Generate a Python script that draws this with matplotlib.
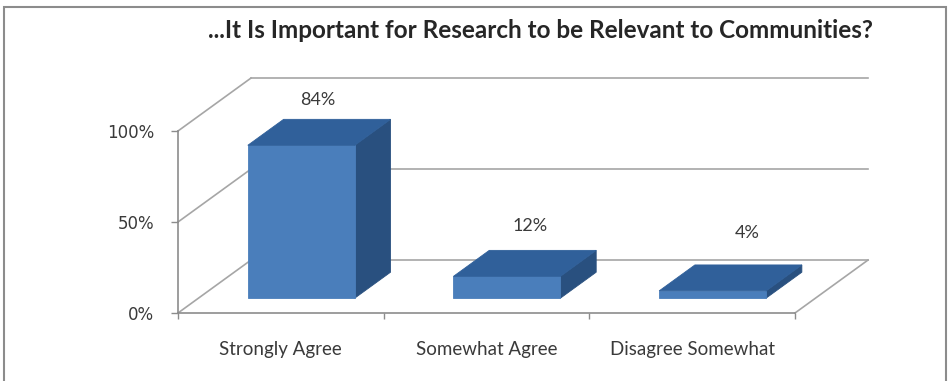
import matplotlib
matplotlib.use("Agg")
import matplotlib.pyplot as plt
from matplotlib.patches import Polygon, Rectangle

categories = ["Strongly Agree", "Somewhat Agree", "Disagree Somewhat"]
values = [84, 12, 4]
value_labels = ["84%", "12%", "4%"]
y_ticks = [0, 50, 100]
y_tick_labels = ["0%", "50%", "100%"]
title = "...It Is Important for Research to be Relevant to Communities?"

# oblique depth offset, in data units (categories, percent)
DX = 0.355
DY = 29.1
BAR_FRONT = 0.28
BAR_BACK = 0.77
BAR_WIDTH = 0.52

FRONT_COLOR = "#4a7ebb"
TOP_COLOR = "#30609a"
SIDE_COLOR = "#29507f"
WALL_COLOR = "#a6a6a6"
TEXT_COLOR = "#3a3a3a"


def proj(x, y, d):
    return (x + d * DX, y + d * DY)


fig = plt.figure(figsize=(9.52, 3.81), dpi=100)
ax = fig.add_axes([178 / 952, 68 / 381, 617 / 952, 182 / 381])
ax.set_xlim(0, len(categories))
ax.set_ylim(0, 100)
ax.set_facecolor("none")

n = len(categories)

# walls: left wall diagonals and back wall lines for each gridline
for v in y_ticks:
    ax.plot([0, DX], [v, v + DY], color=WALL_COLOR, lw=1.2, zorder=1, clip_on=False)
    ax.plot([DX, n + DX], [v + DY, v + DY], color=WALL_COLOR, lw=1.2, zorder=1, clip_on=False)
# floor right edge
ax.plot([n, n + DX], [0, DY], color=WALL_COLOR, lw=1.2, zorder=1, clip_on=False)

label_depth = [0.5, 0.6, 0.75]
for i, v in enumerate(values):
    c = i + 0.5
    l, r = c - BAR_WIDTH / 2, c + BAR_WIDTH / 2
    front = [proj(l, 0, BAR_FRONT), proj(r, 0, BAR_FRONT),
             proj(r, v, BAR_FRONT), proj(l, v, BAR_FRONT)]
    top = [proj(l, v, BAR_FRONT), proj(r, v, BAR_FRONT),
           proj(r, v, BAR_BACK), proj(l, v, BAR_BACK)]
    side = [proj(r, 0, BAR_FRONT), proj(r, 0, BAR_BACK),
            proj(r, v, BAR_BACK), proj(r, v, BAR_FRONT)]
    for pts, col in [(side, SIDE_COLOR), (front, FRONT_COLOR), (top, TOP_COLOR)]:
        ax.add_patch(Polygon(pts, closed=True, facecolor=col, edgecolor=col,
                             lw=0.6, zorder=3, clip_on=False))
    ax.annotate(value_labels[i], xy=proj(c, v, label_depth[i]), xytext=(0, 24),
                textcoords="offset points", ha="center", va="center",
                fontsize=13, family="Lato", color=TEXT_COLOR)

for side_name in ["top", "right"]:
    ax.spines[side_name].set_visible(False)
for side_name in ["left", "bottom"]:
    ax.spines[side_name].set_color("#8c8c8c")
    ax.spines[side_name].set_linewidth(1.2)

ax.set_yticks(y_ticks)
ax.set_yticklabels(y_tick_labels)
ax.tick_params(axis="y", direction="out", length=5, width=1, color="#8c8c8c",
               pad=12, labelsize=12, labelcolor=TEXT_COLOR)

ax.set_xticks(range(n + 1))
ax.set_xticklabels([])
ax.set_xticks([i + 0.5 for i in range(n)], minor=True)
ax.set_xticklabels(categories, minor=True)
ax.tick_params(axis="x", which="major", direction="out", length=4, width=1,
               color="#8c8c8c")
ax.tick_params(axis="x", which="minor", length=0, pad=20, labelsize=13.5,
               labelcolor=TEXT_COLOR)
for lbl in ax.get_xticklabels(minor=True):
    lbl.set_family("Lato")

fig.text(540 / 952, 1 - 30 / 381, title, ha="center", va="center",
         fontsize=17.5, fontweight="bold", family="Lato", color="#262626")

fig.patches.append(Rectangle((4 / 952, -0.02), 942 / 952, 1.02 - 7 / 381,
                             transform=fig.transFigure, fill=False,
                             edgecolor="#8c8c8c", lw=1.5))

fig.savefig("out.png", dpi=100)
